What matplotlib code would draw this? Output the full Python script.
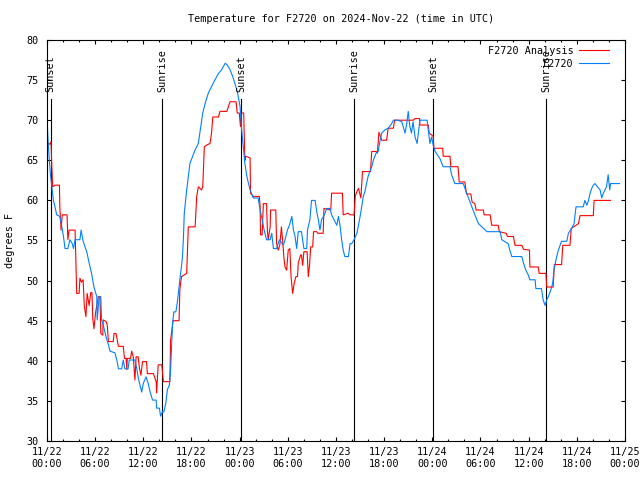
import matplotlib
matplotlib.use("Agg")
import matplotlib.pyplot as plt
from matplotlib.ticker import MultipleLocator

# hours since 2024-11-22 00:00 UTC, temperature in degrees F
obs_hours = [
    0.0, 0.05, 0.15, 0.3, 0.45, 0.6, 0.8, 1.0, 1.2, 1.6, 1.85, 2.05, 2.25, 2.6, 2.85,
    3.15, 3.3, 3.5, 4.1, 4.25, 4.5, 4.95, 5.25, 5.55, 5.85, 6.2, 6.25, 6.5, 6.7, 6.8,
    7.0, 7.35, 7.65, 7.85, 8.45, 8.7, 8.9, 9.3, 9.5, 9.7, 10.1, 10.25, 10.95, 11.15,
    11.35, 11.6, 11.8, 12.0, 12.35, 12.6, 12.85, 13.15, 13.6, 13.65, 14.0, 14.15, 14.4,
    14.55, 14.8, 15.0, 15.25, 15.4, 15.55, 15.65, 15.8, 16.05, 16.25, 16.4, 16.55, 16.8,
    16.9, 17.0, 17.1, 17.4, 17.6, 17.8, 18.15, 18.45, 18.85, 19.15, 19.4, 19.7, 20.1,
    20.5, 20.9, 21.35, 21.75, 22.2, 22.45, 22.8, 23.15, 23.4, 23.7, 24.05, 24.25, 24.45,
    24.65, 24.9, 25.1, 25.3, 25.7, 26.3, 26.55, 26.8, 27.05, 27.35, 27.8, 28.0, 28.2,
    28.6, 28.95, 29.45, 29.65, 29.95, 30.2, 30.5, 30.7, 30.9, 31.1, 31.3, 31.7, 32.0,
    32.35, 32.45, 32.75, 32.95, 33.4, 33.6, 33.8, 34.0, 34.2, 34.55, 34.85, 35.25, 35.45,
    35.75, 36.1, 36.3, 36.5, 36.7, 36.9, 37.1, 37.55, 37.75, 37.95, 38.25, 38.6, 38.8,
    39.0, 39.2, 39.4, 39.6, 39.8, 40.0, 40.25, 40.45, 40.65, 41.0, 41.25, 41.5, 41.7,
    42.1, 42.5, 42.95, 43.15, 43.7, 44.2, 44.6, 44.8, 45.0, 45.2, 45.4, 45.6, 45.85,
    46.1, 46.3, 46.45, 47.35, 47.5, 47.7, 47.9, 48.1, 48.35, 48.95, 49.35, 50.2, 50.4,
    50.8, 51.85, 52.2, 52.5, 52.9, 53.3, 53.75, 54.8, 56.45, 56.65, 57.45, 57.65, 57.9,
    59.15, 59.35, 59.65, 59.95, 60.15, 60.8, 60.9, 61.6, 61.8, 62.05, 62.25, 62.45,
    62.75, 63.0, 63.15, 63.4, 63.7, 64.1, 64.75, 64.95, 65.35, 65.65, 65.9, 66.8, 67.0,
    67.25, 67.45, 67.65, 67.85, 68.05, 68.25, 68.9, 69.1, 69.3, 69.7, 69.9, 70.1, 70.2,
    71.3,
]
obs_temps = [
    70.8, 69.2, 67.2, 64.8, 63.0, 61.7, 60.0, 59.2, 58.2, 58.0, 56.7, 55.5, 54.0, 54.0, 55.1,
    54.6, 54.0, 55.1, 55.1, 56.3, 54.9, 53.6, 52.2, 50.9, 49.2, 48.0, 45.1, 48.0, 48.0, 45.1,
    44.5, 43.0, 42.0, 41.2, 41.0, 40.1, 39.0, 39.0, 40.1, 39.0, 39.0, 40.1, 40.1, 39.2,
    38.0, 36.9, 36.1, 37.2, 38.0, 37.2, 36.1, 35.1, 35.1, 34.1, 34.1, 33.1, 33.7,
    33.6, 34.7, 36.4, 37.0, 38.9, 42.6, 44.7, 46.1, 46.1, 47.4, 48.8, 50.1, 52.2,
    53.4, 55.5, 58.4, 61.3, 63.0, 64.6, 65.5, 66.3, 67.1, 69.2, 70.9, 72.1, 73.4,
    74.2, 75.0, 75.8, 76.3, 77.1, 76.9, 76.3, 75.4, 74.6, 73.6, 71.7, 68.8, 66.7,
    64.6, 63.0, 62.1, 61.3, 60.3, 60.3, 58.8, 57.6, 56.3, 55.1, 55.1, 55.9, 54.0,
    54.0, 55.1, 54.4, 55.1, 56.3, 56.9, 58.0, 56.3, 55.5, 54.0, 56.1, 56.1, 54.0,
    54.0, 56.3, 57.6, 60.0, 60.0, 58.6, 57.6, 56.3, 57.6, 58.2, 59.0, 59.0, 58.2,
    57.6, 56.9, 58.0, 56.9, 55.1, 53.8, 53.0, 53.0, 54.6, 54.6, 55.1, 55.9, 56.9,
    58.0, 59.2, 60.5, 61.1, 62.1, 63.0, 63.7, 64.2, 65.0, 65.9, 66.1, 67.5, 68.4,
    68.8, 69.0, 69.6, 70.0, 70.0, 69.8, 68.4, 69.5, 71.1, 69.2, 68.4, 69.8, 67.9,
    67.1, 68.8, 70.0, 70.0, 68.8, 67.1, 67.9, 66.9, 66.1, 65.2, 64.2, 64.2, 63.2,
    62.1, 62.1, 61.1, 60.3, 59.2, 58.2, 57.1, 56.1, 56.1, 55.1, 54.6, 53.8, 53.0,
    53.0, 52.2, 51.3, 50.7, 50.1, 50.1, 49.0, 49.0, 47.6, 46.9, 47.6, 48.0,
    48.8, 49.7, 51.3, 52.6, 53.8, 54.9, 54.9, 55.9, 56.5, 57.1, 59.2, 59.2, 60.0,
    59.4, 60.0, 60.9, 61.5, 61.9, 62.1, 61.3, 60.3, 60.9, 61.7, 63.2, 61.3, 62.1,
    62.1,
]

ana_hours = [
    0.0, 0.35, 0.5, 0.6, 0.7, 1.0, 1.55, 1.6, 1.75, 1.9, 2.5, 2.6, 2.75, 3.5, 3.6, 3.7,
    4.0, 4.1, 4.3, 4.5, 4.65, 4.85, 5.0, 5.25, 5.45, 5.6, 5.7, 5.85, 6.05, 6.25, 6.4,
    6.6, 6.7, 6.95, 7.0, 7.35, 7.5, 7.65, 8.25, 8.35, 8.6, 8.75, 8.9, 9.5, 9.65, 9.85,
    9.95, 10.0, 10.4, 10.55, 10.75, 10.95, 11.1, 11.35, 11.5, 11.7, 11.9, 12.4, 12.5,
    13.25, 13.6, 13.65, 13.85, 14.3, 14.5, 15.3, 15.4, 15.7, 16.45, 16.55, 16.75, 17.4,
    17.6, 18.45, 18.65, 18.85, 19.25, 19.4, 19.6, 19.9, 20.3, 20.5, 20.65, 21.35, 21.55,
    22.4, 22.8, 23.55, 23.7, 23.95, 24.1, 24.2, 24.5, 24.65, 24.75, 25.3, 25.35, 25.7,
    26.45, 26.55, 26.6, 26.8, 26.95, 27.35, 27.45, 27.55, 27.8, 27.85, 28.5, 28.6, 28.8,
    29.0, 29.2, 29.4, 29.5, 29.65, 29.85, 30.05, 30.25, 30.4, 30.6, 30.8, 31.0, 31.2,
    31.3, 31.6, 31.7, 31.85, 32.0, 32.4, 32.55, 32.7, 32.85, 33.1, 33.2, 33.6, 33.725,
    34.4, 34.5, 35.35, 35.45, 36.8, 36.9, 37.5, 37.75, 38.25, 38.4, 38.6, 38.8, 39.1,
    39.3, 40.3, 40.45, 41.0, 41.15, 41.35, 41.7, 42.3, 42.5, 43.15, 43.3, 44.6, 45.6,
    45.85, 46.4, 46.45, 47.5, 47.6, 48.1, 48.2, 49.3, 49.35, 50.2, 50.3, 51.2, 51.35,
    52.05, 52.25, 52.8, 52.95, 53.3, 53.45, 54.35, 54.45, 55.2, 55.4, 56.2, 56.35, 57.2,
    57.35, 58.1, 58.3, 59.15, 59.35, 60.1, 60.15, 61.2, 61.3, 62.15, 62.25, 63.05, 63.2,
    64.1, 64.25, 65.15, 65.3, 66.2, 66.4, 68.05, 68.15, 70.2,
]
ana_temps = [
    67.2, 67.0, 67.3, 64.2, 61.7, 61.9, 61.9, 59.2, 56.3, 58.2, 58.2, 55.1, 56.3, 56.3, 52.6, 48.4,
    48.4, 50.3, 49.8, 50.1, 46.8, 45.5, 48.4, 46.9, 48.5, 48.5, 45.3, 44.0, 46.0, 47.2, 48.0,
    48.0, 43.4, 43.2, 45.1, 44.9, 44.5, 42.4, 42.4, 43.4, 43.4, 42.6, 41.8, 41.8, 40.3, 40.3,
    38.9, 40.3, 40.3, 41.2, 40.5, 37.6, 40.5, 40.5, 39.2, 38.2, 39.9, 39.9, 38.4,
    38.4, 37.4, 36.0, 39.5, 39.5, 37.4, 37.4, 42.6, 45.0, 45.0, 48.9, 50.5, 50.9,
    56.7, 56.7, 60.5, 61.7, 61.3, 61.7, 66.7, 66.9, 67.1, 68.4, 70.4, 70.4, 71.1,
    71.1, 72.3, 72.3, 70.9, 70.9, 69.2, 70.9, 70.9, 65.0, 65.5, 65.3, 60.9, 60.5,
    60.5, 59.2, 55.7, 55.7, 59.6, 59.6, 56.3, 55.1, 56.7, 58.8, 58.8, 54.6, 53.8,
    54.4, 56.7, 54.4, 53.0, 51.7, 51.3, 53.8, 54.0, 50.5, 48.4, 49.7, 50.5, 50.5,
    52.2, 53.2, 53.2, 51.9, 53.6, 53.6, 50.5, 51.9, 54.2, 54.2, 56.1, 56.1, 55.9,
    55.9, 59.0, 58.8, 60.9, 60.9, 58.2, 58.4, 58.2, 58.2, 60.5, 61.1, 61.5, 60.3,
    63.6, 63.6, 66.1, 66.1, 65.9, 68.5, 67.5, 67.5, 69.0, 69.0, 70.0, 70.0, 70.0,
    70.2, 70.2, 69.4, 69.4, 68.4, 68.0, 66.5, 66.5, 65.5, 65.5, 64.2, 64.2, 62.3,
    62.3, 60.8, 60.8, 59.8, 59.6, 58.8, 58.8, 58.2, 58.2, 56.9, 56.9, 56.1, 55.9,
    55.5, 55.5, 54.4, 54.4, 53.9, 53.8, 51.7, 51.7, 50.9, 50.9, 49.2, 49.2, 52.0,
    52.0, 54.4, 54.4, 56.5, 57.1, 58.1, 58.1, 60.0, 60.0,
]

sun_hours = [0.45, 14.37, 24.22, 38.28, 48.12, 62.2]
sun_labels = ["Sunset", "Sunrise", "Sunset", "Sunrise", "Sunset", "Sunrise"]

tick_hours = list(range(0, 73, 6))
tick_labels = [
    "11/22\n00:00", "11/22\n06:00", "11/22\n12:00", "11/22\n18:00",
    "11/23\n00:00", "11/23\n06:00", "11/23\n12:00", "11/23\n18:00",
    "11/24\n00:00", "11/24\n06:00", "11/24\n12:00", "11/24\n18:00",
    "11/25\n00:00",
]

plt.rcParams["font.family"] = ["DejaVu Sans Mono"]
plt.rcParams["font.size"] = 7.3

fig = plt.figure(figsize=(6.4, 4.8), dpi=100)
ax = fig.add_axes([47 / 640, 1 - 441 / 480, 578 / 640, 401 / 480])

for h, lab in zip(sun_hours, sun_labels):
    ax.plot([h, h], [30, 72.6], color="black", lw=0.8)
    ax.text(h, 73.5, lab, rotation=90, ha="center", va="bottom", fontsize=7.3)

ax.plot(ana_hours, ana_temps, color="#ff0000", lw=0.8, label="F2720 Analysis")
ax.plot(obs_hours, obs_temps, color="#0080ff", lw=0.8, label="F2720")

ax.set_xlim(0, 72)
ax.set_ylim(30, 80)
ax.set_xticks(tick_hours)
ax.set_xticklabels(tick_labels, linespacing=1.35)
ax.xaxis.set_minor_locator(MultipleLocator(2))
ax.set_yticks(range(30, 81, 5))
ax.tick_params(which="both", direction="in", top=True, right=True, width=0.8, color="black")
ax.tick_params(which="major", length=3.0)
ax.tick_params(which="minor", length=1.5)
ax.tick_params(axis="y", pad=6)
ax.tick_params(axis="x", pad=4)
for s in ax.spines.values():
    s.set_linewidth(0.8)

ax.legend(loc="upper right", bbox_to_anchor=(0.972, 0.985), frameon=False,
          markerfirst=False, borderpad=0, borderaxespad=0, handlelength=2.9,
          handletextpad=0.6, labelspacing=0.25, fontsize=7.3)

fig.text(341 / 640, 1 - 19 / 480, "Temperature for F2720 on 2024-Nov-22 (time in UTC)",
         ha="center", va="center", fontsize=7.3)
fig.text(10 / 640, 1 - 240 / 480, "degrees F", rotation=90, ha="center", va="center",
         fontsize=7.3)

fig.savefig("out.png", dpi=100)
